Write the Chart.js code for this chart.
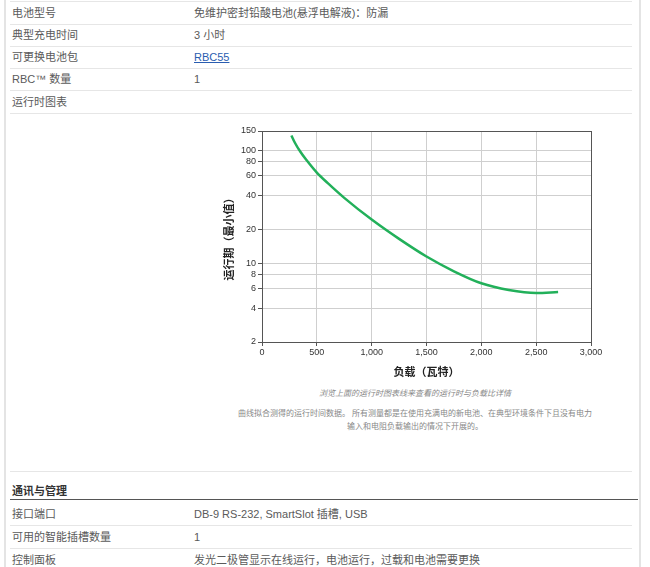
<!DOCTYPE html>
<html>
<head>
<meta charset="utf-8">
<script src="https://cdn.jsdelivr.net/npm/chart.js@4/dist/chart.umd.min.js"></script>
<style>
  body { margin: 0; background: #fff; width: 650px; height: 567px; overflow: hidden;
         font-family: "Liberation Sans", Arial, "Noto Sans CJK SC", sans-serif; }
  .frame { position: absolute; left: 4px; top: 0; width: 633px; height: 567px;
           border-left: 2px solid #e4e4e4; border-right: 2px solid #e4e4e4; }
  .row { position: absolute; left: 10px; width: 622px; height: 22px; border-bottom: 1px solid #e6e6e6;
         font-size: 11px; color: #5a5a5a; line-height: 22px; }
  .row .k { position: absolute; left: 2px; }
  .row .v { position: absolute; left: 184px; }
  .row a { color: #2a5db0; text-decoration: underline; }
  .hdr { position: absolute; left: 10px; width: 626px; top: 480px; height: 19px; border-bottom: 1px solid #555;
         font-size: 11px; font-weight: bold; color: #333; line-height: 22px; padding-left: 2px; }
  .cap { position: absolute; left: 194px; width: 442px; text-align: center; color: #888; font-size: 8px; }
  #wrap { position: absolute; left: 222px; top: 122px; width: 385px; height: 256px; }
</style>
</head>
<body>
<div class="frame"></div>
<div class="row" style="top:1px;border-top:1px solid #e6e6e6"><span class="k">电池型号</span><span class="v">免维护密封铅酸电池(悬浮电解液)：防漏</span></div>
<div class="row" style="top:24px"><span class="k">典型充电时间</span><span class="v">3 小时</span></div>
<div class="row" style="top:46px"><span class="k">可更换电池包</span><span class="v"><a>RBC55</a></span></div>
<div class="row" style="top:68px"><span class="k">RBC™ 数量</span><span class="v">1</span></div>
<div class="row" style="top:91px"><span class="k">运行时图表</span></div>
<div class="row" style="top:449px;height:22px"></div>

<div id="wrap"><canvas id="runtimeChart"></canvas></div>

<div class="cap" style="top:387px;font-style:italic">浏览上面的运行时图表线来查看的运行时与负载比详情</div>
<div class="cap" style="top:407px;line-height:13px">曲线拟合测得的运行时间数据。 所有测量都是在使用充满电的新电池、在典型环境条件下且没有电力<br>输入和电阻负载输出的情况下开展的。</div>

<div class="hdr">通讯与管理</div>
<div class="row" style="top:503px"><span class="k">接口端口</span><span class="v">DB-9 RS-232, SmartSlot 插槽, USB</span></div>
<div class="row" style="top:526px"><span class="k">可用的智能插槽数量</span><span class="v">1</span></div>
<div class="row" style="top:549px;border-bottom:none"><span class="k">控制面板</span><span class="v">发光二极管显示在线运行，电池运行，过载和电池需要更换</span></div>

<script>
// load in watts vs runtime in minutes
const loadWatts = [268, 300, 350, 400, 500, 600, 750, 1000, 1250, 1500, 1750, 2000, 2250, 2500, 2700];
const runtimeMin = [137, 118, 98, 84, 64, 51.6, 38.2, 24.5, 16.5, 11.5, 8.5, 6.65, 5.8, 5.45, 5.55];
const yTicks = [2, 4, 6, 8, 10, 20, 40, 60, 80, 100, 150];
const xTicks = [0, 500, 1000, 1500, 2000, 2500, 3000];

const tickFont = { family: "'Liberation Sans', Arial, sans-serif", size: 9 };
const titleFont = { family: "'Noto Sans CJK SC', sans-serif", size: 11, weight: "bold" };

// dark frame round the plot area
const frame = {
  id: "frame",
  afterDraw(chart) {
    const { ctx, chartArea: a } = chart;
    ctx.save();
    ctx.strokeStyle = "#555";
    ctx.lineWidth = 1;
    ctx.strokeRect(a.left + 0.5, a.top + 0.5, a.right - a.left, a.bottom - a.top);
    ctx.restore();
  },
};

new Chart(document.getElementById("runtimeChart"), {
  type: "line",
  data: {
    datasets: [
      {
        data: loadWatts.map((x, i) => ({ x, y: runtimeMin[i] })),
        borderColor: "#22b05a",
        borderWidth: 2.5,
        pointRadius: 0,
        cubicInterpolationMode: "monotone",
        fill: false,
      },
    ],
  },
  options: {
    responsive: true,
    maintainAspectRatio: false,
    animation: false,
    layout: { padding: { top: 9, right: 16, left: 0, bottom: 0 } },
    plugins: { legend: { display: false }, tooltip: { enabled: false } },
    scales: {
      x: {
        type: "linear",
        min: 0,
        max: 3000,
        afterBuildTicks: (s) => { s.ticks = xTicks.map((v) => ({ value: v })); },
        afterFit: (s) => { s.height = 36; },
        ticks: {
          font: tickFont,
          color: "#333",
          padding: 1,
          maxRotation: 0,
          callback: (v) => v.toLocaleString("en-US"),
        },
        grid: { color: "#cfcfcf", tickLength: 4, tickColor: "#555" },
        border: { color: "#555" },
        title: { display: true, text: "负载（瓦特）", font: titleFont, color: "#222", padding: { top: 0, bottom: 0 } },
      },
      y: {
        type: "logarithmic",
        min: 2,
        max: 150,
        afterBuildTicks: (s) => { s.ticks = yTicks.map((v) => ({ value: v })); },
        afterFit: (s) => { s.width = 40; },
        ticks: { font: tickFont, color: "#333", padding: 2, callback: (v) => String(v) },
        grid: { color: "#cfcfcf", tickLength: 4, tickColor: "#555" },
        border: { color: "#555" },
        title: { display: true, text: "运行期（最小值）", font: titleFont, color: "#222", padding: { top: 0, bottom: 0 } },
      },
    },
  },
  plugins: [frame],
});
</script>
</body>
</html>
